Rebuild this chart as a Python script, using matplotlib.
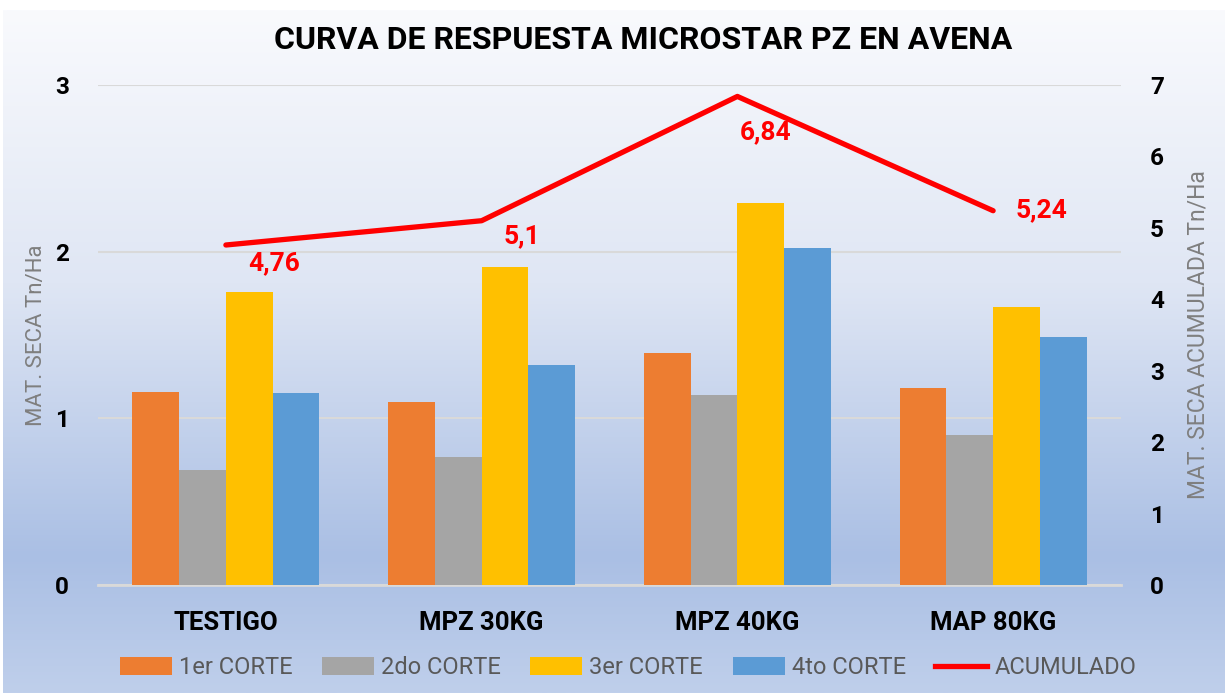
import numpy as np
import matplotlib
matplotlib.use("Agg")
import matplotlib.pyplot as plt
from matplotlib.colors import LinearSegmentedColormap
from matplotlib.patches import Patch
from matplotlib.lines import Line2D

categories = ["TESTIGO", "MPZ 30KG", "MPZ 40KG", "MAP 80KG"]
corte1 = [1.16, 1.10, 1.39, 1.18]
corte2 = [0.69, 0.77, 1.14, 0.90]
corte3 = [1.76, 1.91, 2.29, 1.67]
corte4 = [1.15, 1.32, 2.02, 1.49]
acumulado = [4.76, 5.10, 6.84, 5.24]
acum_labels = ["4,76", "5,1", "6,84", "5,24"]
series_names = ["1er CORTE", "2do CORTE", "3er CORTE", "4to CORTE"]

colors = ["#ED7D31", "#A5A5A5", "#FFC000", "#5B9BD5"]
red = "#FF0000"
# label offsets (pixels) relative to each line point
label_offsets = [(48, -18), (40, -16), (28, -36), (48, 0)]

plt.rcParams["font.family"] = ["Roboto", "DejaVu Sans"]

fig = plt.figure(figsize=(12.25, 6.93), dpi=100)

# gradient background
bg = fig.add_axes([3 / 1225, 0, 1 - 3 / 1225, 1 - 10 / 693], zorder=-10)
cmap = LinearSegmentedColormap.from_list("bg", [
    (0.0, "#F9FAFD"), (0.40, "#DFE6F4"), (0.80, "#AABFE4"), (1.0, "#BFCFEB")])
grad = np.linspace(0, 1, 256).reshape(-1, 1)
bg.imshow(grad, aspect="auto", cmap=cmap, extent=[0, 1, 0, 1])
bg.set_axis_off()

ax = fig.add_axes([98 / 1225, 1 - 585 / 693, 1023 / 1225, 500 / 693])
ax.patch.set_visible(False)

x = np.arange(len(categories))
w = 0.183
data = [corte1, corte2, corte3, corte4]
for i, vals in enumerate(data):
    ax.bar(x + (i - 1.5) * w, vals, w, color=colors[i], zorder=3)

ax.set_xlim(-0.5, len(categories) - 0.5)
ax.set_ylim(0, 3)
ax.set_yticks([0, 1, 2, 3])
ax.yaxis.grid(True, color="#D9D9D9", linewidth=1.5, zorder=0)
ax.set_axisbelow(True)
for s in ["top", "right", "left"]:
    ax.spines[s].set_visible(False)
ax.spines["bottom"].set_color("#D9D9D9")
ax.spines["bottom"].set_linewidth(2)
ax.tick_params(axis="both", length=0)
ax.tick_params(axis="y", pad=21)
ax.tick_params(axis="x", pad=19)
ax.set_xticks(x)
ax.set_xticklabels(categories, fontsize=18.5, fontweight="bold")
for t in ax.get_yticklabels():
    t.set_fontsize(17.5)
    t.set_fontweight("bold")
ax.set_ylabel("MAT. SECA Tn/Ha", fontsize=16, color="#7F7F7F", labelpad=6)

ax2 = ax.twinx()
ax2.patch.set_visible(False)
ax2.set_ylim(0, 7)
ax2.set_yticks(range(8))
for s in ax2.spines.values():
    s.set_visible(False)
ax2.tick_params(axis="y", length=0, pad=21)
for t in ax2.get_yticklabels():
    t.set_fontsize(17.5)
    t.set_fontweight("bold")
ax2.set_ylabel("MAT. SECA ACUMULADA Tn/Ha", fontsize=16.5, color="#7F7F7F",
               labelpad=16)
ax2.plot(x, acumulado, color=red, linewidth=3.8, solid_capstyle="round", zorder=5)
for xi, yi, lab, off in zip(x, acumulado, acum_labels, label_offsets):
    ax2.annotate(lab, (xi, yi), xytext=off, textcoords="offset pixels",
                 ha="center", va="center", color=red, fontsize=19,
                 fontweight="bold")

fig.text(643 / 1225, 1 - 40 / 693, "CURVA DE RESPUESTA MICROSTAR PZ EN AVENA",
         ha="center", va="center", fontsize=23, fontweight="bold")

handles = [Patch(facecolor=c) for c in colors]
handles.append(Line2D([0], [0], color=red, linewidth=3.8))
leg = fig.legend(handles, series_names + ["ACUMULADO"], loc="center",
                 bbox_to_anchor=(628 / 1225, 1 - 668 / 693), ncol=5, frameon=False,
                 fontsize=17, handlelength=2.2, handleheight=0.8,
                 columnspacing=1.25, handletextpad=0.3)
for t in leg.get_texts():
    t.set_color("#595959")

fig.savefig("out.png", dpi=100)
